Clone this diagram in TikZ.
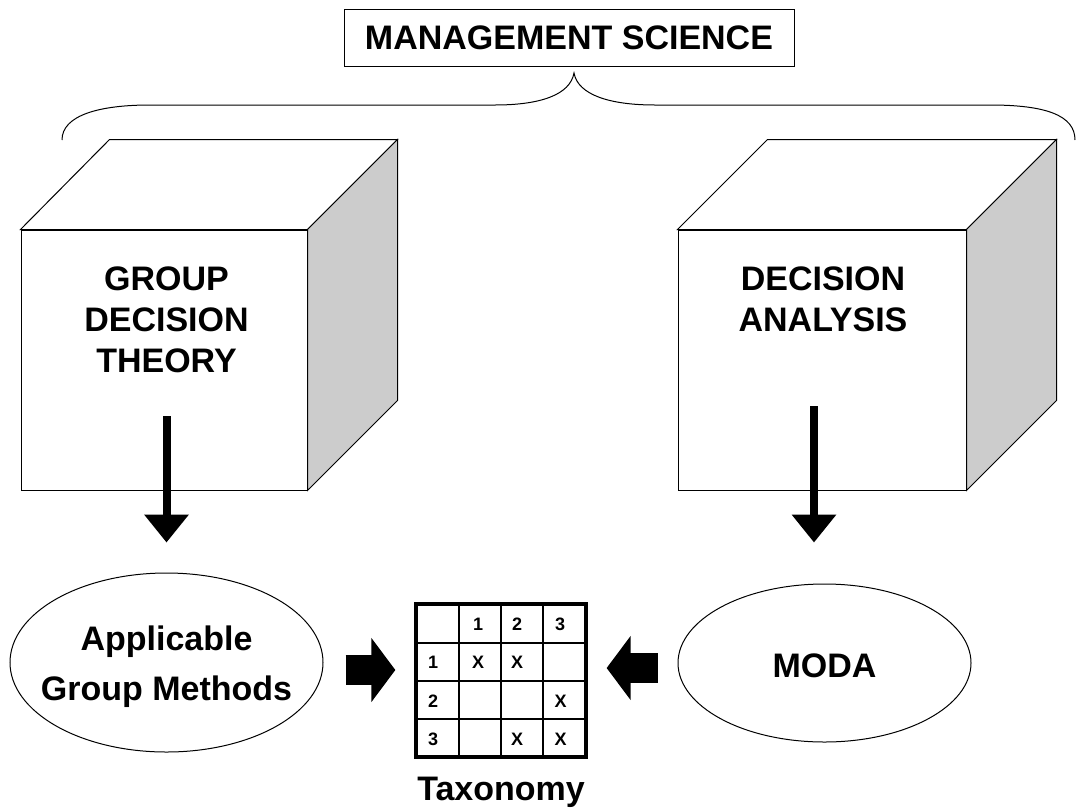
\documentclass[tikz,border=0pt]{standalone}
\usepackage{fontspec}
\setmainfont{Liberation Sans}
\usetikzlibrary{arrows.meta,shapes.geometric,calc}
\definecolor{sidegray}{RGB}{204,204,204}
\tikzset{
  thinline/.style={draw=black, line width=1pt},
  frontface/.style={thinline, fill=white, minimum width=#1, minimum height=260pt, inner sep=0pt},
  bigtext/.style={font=\fontsize{34}{41}\selectfont\bfseries, align=center, inner sep=0pt},
  ovaltext/.style={font=\fontsize{34}{50}\selectfont\bfseries, align=center, inner sep=0pt},
  oval/.style={ellipse, thinline, inner sep=0pt},
  gridtext/.style={font=\fontsize{18}{18}\selectfont\bfseries, inner sep=0pt},
  varrow/.style={line width=8pt, -{Triangle[width=43pt,length=28pt]}},
  harrow/.style={line width=30pt, -{Triangle[width=63pt,length=24pt]}},
}
\begin{document}
\begin{tikzpicture}[x=1pt,y=1pt]
\useasboundingbox (0,0) rectangle (1078,-809);

% title
\node[thinline, minimum width=450pt, minimum height=57pt, inner sep=0pt,
      font=\fontsize{34}{34}\selectfont\bfseries] (ms) at (569,-37.5) {MANAGEMENT SCIENCE};

% brace
\draw[thinline] (62,-140) .. controls (62,-115) and (100,-105) .. (150,-105)
  -- (495,-105) .. controls (540,-105) and (570,-95) .. (574,-73)
  .. controls (578,-95) and (610,-105) .. (655,-105)
  -- (990,-105) .. controls (1045,-105) and (1075,-115) .. (1075,-140);

% left cube
\node[frontface=286pt] (gfront) at (164,-360) {};
\draw[thinline, fill=white] (gfront.north west) -- ++(89,90) -- ($(gfront.north east)+(90,90)$) -- (gfront.north east) -- cycle;
\draw[thinline, fill=sidegray] (gfront.north east) -- ++(90,90) -- ++(0,-261) -- (gfront.south east) -- cycle;
\node[bigtext] (gdt) at (166.5,-320) {GROUP\\DECISION\\THEORY};

% right cube
\node[frontface=288pt] (dfront) at (822,-360) {};
\draw[thinline, fill=white] (dfront.north west) -- ++(90,90) -- ($(dfront.north east)+(90,90)$) -- (dfront.north east) -- cycle;
\draw[thinline, fill=sidegray] (dfront.north east) -- ++(90,90) -- ++(0,-261) -- (dfront.south east) -- cycle;
\node[bigtext] (da) at (823,-299.5) {DECISION\\ANALYSIS};

% ellipses
\node[oval, minimum width=313pt, minimum height=179pt] (agm) at (166.5,-662.5) {};
\node[ovaltext] (agmtext) at (166.5,-667) {Applicable\\Group Methods};
\node[oval, minimum width=293pt, minimum height=158pt] (moda) at (824.5,-663) {};
\node[ovaltext, anchor=base, text depth=0pt] (modatext) at (824.5,-677) {MODA};

% taxonomy grid
\draw[line width=2pt] (459,-604) -- (459,-757) (501,-604) -- (501,-757) (543,-604) -- (543,-757)
  (416,-643) -- (586,-643) (416,-681) -- (586,-681) (416,-719) -- (586,-719);
\node[draw, line width=3.3pt, minimum width=170pt, minimum height=153pt, inner sep=0pt] (grid) at (501,-680.5) {};
\node[gridtext] (c1) at (478,-624.5) {1};
\node[gridtext] (c2) at (517,-624.5) {2};
\node[gridtext] (c3) at (560,-624.5) {3};
\node[gridtext, anchor=west] (r1) at (428,-662) {1};
\node[gridtext, anchor=west] (r2) at (428,-701) {2};
\node[gridtext, anchor=west] (r3) at (428,-739.5) {3};
\node[gridtext] (x11) at (478,-662) {X};
\node[gridtext] (x12) at (517,-662) {X};
\node[gridtext] (x23) at (560.5,-701) {X};
\node[gridtext] (x32) at (517,-739.5) {X};
\node[gridtext] (x33) at (560.5,-739.5) {X};
\node[font=\fontsize{34}{34}\selectfont\bfseries, anchor=base, inner sep=0pt] (tax) at (501,-800) {Taxonomy};

% arrows
\draw[varrow] ([yshift=-43pt]gdt.south) -- ([yshift=30pt]agm.north);
\draw[varrow] ([xshift=-9pt,yshift=-74pt]da.south) -- ([xshift=-10.5pt,yshift=41pt]moda.north);
\draw[harrow] ($(agm.east)+(22,-7.5)$) -- ($(grid.west)+(-19,10.5)$);
\draw[harrow] ($(moda.west)+(-20,-5)$) -- ($(grid.east)+(19,12.5)$);
\end{tikzpicture}
\end{document}
